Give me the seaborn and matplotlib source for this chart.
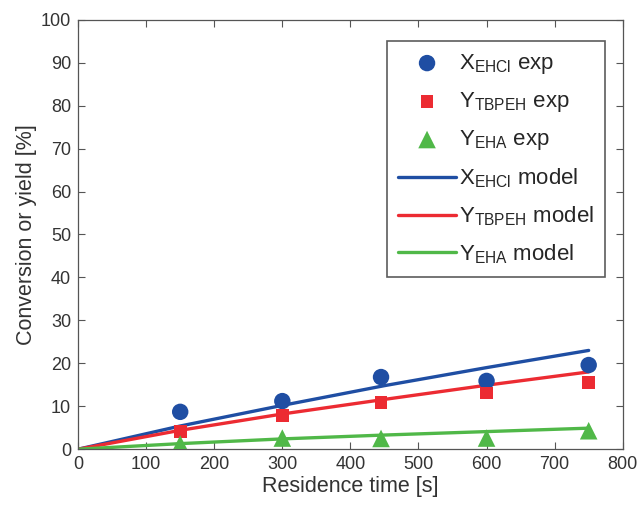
import matplotlib
matplotlib.use("Agg")
import matplotlib.pyplot as plt
import seaborn as sns
import pandas as pd

# Experimental data
t_exp = [150, 300, 445, 600, 750]
x_ehcl_exp = [8.7, 11.2, 16.8, 15.9, 19.6]
y_tbpeh_exp = [4.2, 7.9, 10.8, 13.1, 15.5]
y_eha_exp = [1.2, 2.6, 2.5, 2.6, 4.3]

# Model curves
t_model = [0, 150, 300, 450, 600, 750]
x_ehcl_model = [0, 5.4, 10.2, 14.8, 19.0, 23.0]
y_tbpeh_model = [0, 4.4, 8.2, 11.6, 14.9, 18.0]
y_eha_model = [0, 1.3, 2.4, 3.3, 4.1, 4.9]

xticks = [0, 100, 200, 300, 400, 500, 600, 700, 800]
yticks = [0, 10, 20, 30, 40, 50, 60, 70, 80, 90, 100]

blue = "#1f4ea3"
red = "#ec2b32"
green = "#50b848"

sns.set_theme(style="white")
plt.rcParams['font.family'] = ['Liberation Sans', 'DejaVu Sans']
plt.rcParams['mathtext.fontset'] = 'custom'
plt.rcParams['mathtext.rm'] = 'Liberation Sans'
plt.rcParams['mathtext.it'] = 'Liberation Sans'
plt.rcParams['mathtext.sf'] = 'Liberation Sans'

fig = plt.figure(figsize=(6.4, 5.07), dpi=100)
ax = fig.add_axes([0.122, 0.114, 0.851, 0.847])

dm = pd.DataFrame({"t": t_model, "x": x_ehcl_model, "yt": y_tbpeh_model, "ye": y_eha_model})
de = pd.DataFrame({"t": t_exp, "x": x_ehcl_exp, "yt": y_tbpeh_exp, "ye": y_eha_exp})

sns.lineplot(data=dm, x="t", y="x", ax=ax, color=blue, lw=2.4, label=r"X$_{\rm EHCl}$ model")
sns.lineplot(data=dm, x="t", y="yt", ax=ax, color=red, lw=2.4, label=r"Y$_{\rm TBPEH}$ model")
sns.lineplot(data=dm, x="t", y="ye", ax=ax, color=green, lw=2.4, label=r"Y$_{\rm EHA}$ model")
sns.scatterplot(data=de, x="t", y="x", ax=ax, color=blue, marker="o", s=140, edgecolor="none", label=r"X$_{\rm EHCl}$ exp", zorder=5)
sns.scatterplot(data=de, x="t", y="yt", ax=ax, color=red, marker="s", s=85, edgecolor="none", label=r"Y$_{\rm TBPEH}$ exp", zorder=5)
sns.scatterplot(data=de, x="t", y="ye", ax=ax, color=green, marker="^", s=160, edgecolor="none", label=r"Y$_{\rm EHA}$ exp", zorder=5)

ax.set_xlim(0, 800)
ax.set_ylim(0, 100)
ax.set_xticks(xticks)
ax.set_yticks(yticks)
ax.set_xlabel("Residence time [s]", fontsize=15.5, color="#333333", labelpad=2)
ax.set_ylabel("Conversion or yield [%]", fontsize=15.5, color="#333333", labelpad=3)
ax.tick_params(direction="in", length=5, width=0.8, colors="#555555", labelcolor="#333333",
               labelsize=13, top=True, right=True, bottom=True, left=True, pad=5)
for s in ax.spines.values():
    s.set_color("#555555")
    s.set_linewidth(0.9)

h, lab = ax.get_legend_handles_labels()
order = [3, 4, 5, 0, 1, 2]
leg = ax.legend([h[i] for i in order], [lab[i] for i in order], loc="upper right",
                bbox_to_anchor=(0.968, 0.951), fontsize=16, frameon=True, fancybox=False,
                edgecolor="#333333", handlelength=2.6, handletextpad=0.15, labelspacing=0.64,
                borderpad=0.5, borderaxespad=0.0)
leg.get_frame().set_linewidth(1.2)

fig.savefig("out.png", dpi=100)
